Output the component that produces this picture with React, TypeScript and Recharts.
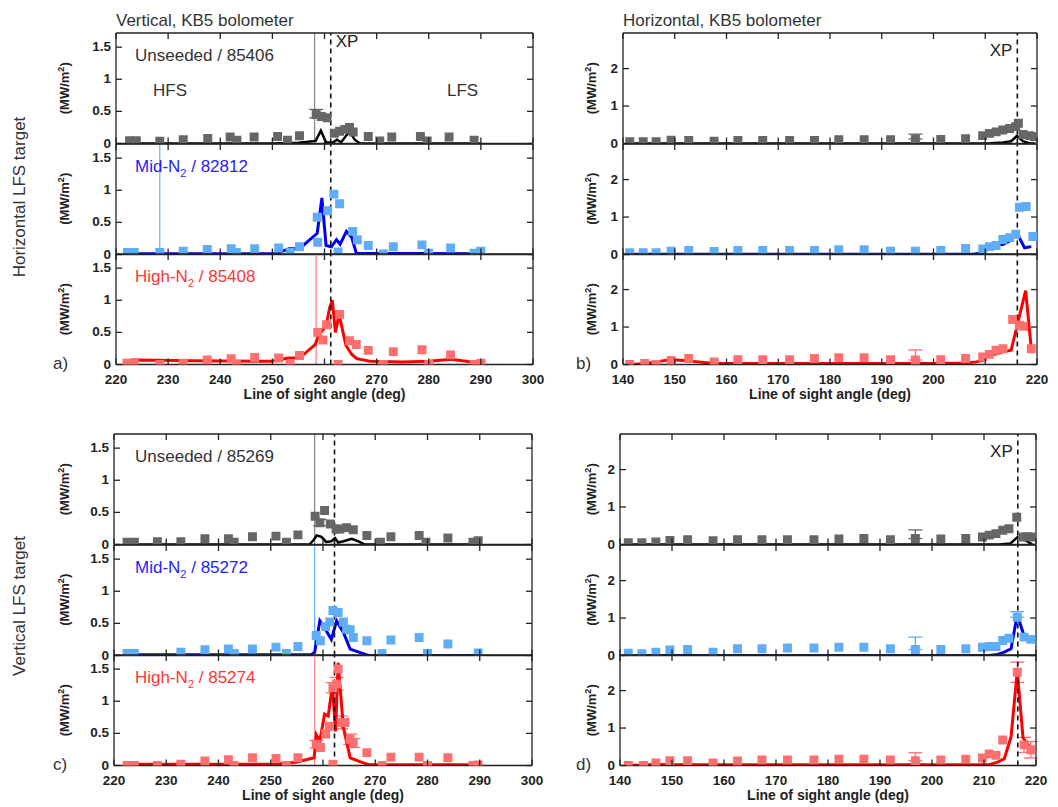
import React from "react";
import { ComposedChart, Scatter, Line, XAxis, YAxis, ZAxis, ReferenceLine, ErrorBar } from "recharts";

// ---- axes ----
const xTicksV = [220, 230, 240, 250, 260, 270, 280, 290, 300];
const xTicksH = [140, 150, 160, 170, 180, 190, 200, 210, 220];
const yTicksV = [0, 0.5, 1, 1.5];
const yTicksH = [0, 1, 2];

// X-point angle per panel (a, b, c, d)
const xpAngles = [261.2, 216.2, 262.2, 216.5];

// points are [angle, value, upper error?, lower error?]
// ---- panel a: horizontal LFS target, vertical camera ----
const a1Pts = [[222.6,0.045],[223.9,0.045],[228.4,0.035],[232.9,0.06],[237.6,0.08],[241.9,0.1],[243.2,0.05],[246.5,0.1],[251.0,0.11],[252.9,0.05],[255.2,0.12],[258.4,0.45,0.08,0.05],[259.4,0.42],[260.5,0.4],[261.9,0.16],[262.9,0.19],[263.9,0.22],[264.8,0.25],[265.5,0.18],[268.4,0.11],[270.6,0.04],[272.9,0.1],[278.4,0.11],[279.7,0.04],[283.9,0.1],[288.7,0.05]];
const a1Line = [[222,0],[250,0],[255,0.01],[258.3,0.04],[259.3,0.2],[260.3,0.02],[261.5,0.01],[262.4,0.06],[263.2,0.02],[264.8,0.19],[265.8,0.06],[266.8,0],[290,0]];
const a2Pts = [[222.2,0.03],[223.5,0.03],[228.4,0.03],[232.9,0.05],[237.5,0.08],[242.1,0.09],[243.1,0.03],[246.6,0.09],[251.2,0.1],[253.4,0.03],[255.2,0.12],[258.6,0.58],[258.7,0.19],[260.6,0.68],[261.8,0.94],[262.6,0.04],[262.9,0.79],[265.4,0.36],[266.3,0.23],[268.4,0.14],[271.3,0.01],[273.2,0.12],[278.7,0.15],[280.0,0.02],[284.2,0.1],[288.7,0.02],[290.0,0.05]];
const a2Line = [[222,0.01],[250.5,0.01],[253.2,0.09],[255.2,0.09],[258.6,0.33],[259.5,0.88],[260.3,0.14],[261.3,0.12],[262.3,0.23],[263.0,0.16],[264.2,0.36],[265.2,0.27],[266.1,0.02],[290,0.01]];
const a3Pts = [[222.1,0.02],[223.5,0.03],[228.4,0],[232.9,0.02],[237.5,0.07],[242.1,0.09],[243.1,0],[246.6,0.11],[251.2,0.1],[253.4,0],[255.2,0.14],[258.7,0.5],[259.7,0.38],[260.4,0.62],[262.6,0],[262.9,0.78],[264.8,0.37],[266.1,0.31],[268.4,0.22],[271.3,0],[273.2,0.2],[278.7,0.23],[280.0,0],[284.2,0.15],[288.7,0],[290.0,0.02]];
const a3Line = [[222,0.06],[224,0.07],[235,0.06],[250,0.05],[253,0.1],[255.2,0.1],[258.2,0.31],[259.0,0.47],[260.3,0.6],[261.0,0.89],[261.5,1.0],[262.1,0.5],[262.8,0.78],[264.1,0.3],[265.2,0.16],[266.2,0.09],[268.7,0.05],[275,0.04],[280,0.05],[284.3,0.08],[290,0.02]];

// ---- panel b: horizontal LFS target, horizontal camera ----
const b1Pts = [[141.3,0.05],[143.9,0.05],[146.4,0.05],[149.3,0.09],[152.7,0.08],[157.6,0.06],[162.2,0.08],[167.0,0.08],[172.2,0.08],[177.0,0.08],[181.7,0.1],[186.6,0.1],[191.7,0.1],[196.5,0.12,0.13,0],[201.4,0.11],[206.2,0.13],[209.5,0.21],[210.8,0.27],[212.1,0.31],[213.4,0.36],[214.7,0.4],[215.9,0.45],[216.4,0.54],[217.3,0.24],[218.6,0.21],[219.5,0.18]];
const b1Line = [[141,0],[209,0],[211,0.01],[213.4,0.03],[215,0.06],[216.1,0.2],[217.3,0.06],[218.6,0],[219.5,0]];
const b2Pts = [[141.3,0.045],[143.9,0.045],[146.4,0.05],[149.3,0.09],[152.7,0.11],[157.6,0.08],[162.2,0.11],[167.0,0.11],[172.2,0.11],[177.0,0.11],[181.7,0.13],[186.6,0.13],[191.7,0.09],[196.5,0.09],[201.4,0.11],[206.2,0.16],[209.5,0.15],[210.8,0.21],[212.1,0.24],[213.4,0.4],[214.7,0.45],[215.9,0.54],[216.6,1.26],[217.9,1.28],[219.2,0.48]];
const b2Line = [[141,0.01],[207.6,0.01],[209.5,0.04],[210.8,0.18],[212.4,0.27],[213.4,0.27],[214.7,0.36],[216.1,0.58],[217.6,0.18],[218.9,0.21]];
const b3Pts = [[141.3,0],[144.2,0.03],[146.4,0],[149.3,0.11],[152.7,0.16],[157.6,0.07],[162.2,0.13],[167.0,0.13],[172.2,0.13],[177.0,0.16],[181.7,0.18],[186.6,0.18],[191.7,0.13],[196.5,0.12,0.27,0],[201.4,0.13],[206.2,0.16],[209.5,0.2],[210.8,0.27],[212.1,0.38],[213.4,0.42],[215.3,1.2],[216.6,1.05],[217.4,1.02],[218.9,0.42]];
const b3Line = [[141.3,0],[144.2,0.02],[146.4,0.07],[149.3,0.13],[151.6,0.11],[157.6,0.03],[200,0.03],[206,0.04],[208.3,0.07],[209.5,0.11],[210.8,0.27],[212.1,0.28],[213.4,0.34],[215.0,0.38],[217.8,1.97],[218.9,0.42]];

// ---- panel c: vertical LFS target, vertical camera ----
const c1Pts = [[222.5,0.035],[223.9,0.035],[228.3,0.045],[232.8,0.045],[237.4,0.09],[241.9,0.09],[243.0,0.035],[246.5,0.12],[251.0,0.13],[253.0,0.035],[255.2,0.15],[258.5,0.44],[259.4,0.34,0.05,0.05],[260.3,0.53],[261.4,0.32],[262.5,0.24],[263.2,0.24],[264.5,0.26],[265.8,0.23],[268.4,0.14],[271.0,0.035],[273.0,0.12],[278.4,0.14],[279.7,0.035],[283.9,0.1],[288.7,0.035],[289.7,0.06]];
const c1Line = [[222,0],[257.4,0],[258.2,0.07],[258.8,0.14],[259.7,0.12],[260.6,0.04],[261.6,0.05],[262.3,0.1],[262.9,0.03],[263.9,0.05],[265.5,0.09],[266.8,0.05],[268,0],[290,0]];
const c2Pts = [[222.5,0.03],[223.9,0.03],[232.8,0.05],[237.4,0.09],[241.9,0.1],[243.0,0.03],[246.5,0.1],[251.0,0.13],[253.0,0.03],[255.2,0.14],[258.7,0.31],[259.5,0.23],[260.5,0.45],[261.3,0.52],[261.9,0.7],[262.9,0.67],[263.9,0.52],[264.5,0.41],[265.2,0.4],[265.8,0.28],[268.4,0.23],[271.3,0.03],[273.0,0.24],[278.4,0.28],[280.0,0.03],[283.9,0.18],[289.7,0.04]];
const c2Line = [[222,0.01],[257.7,0.01],[258.4,0.05],[259.4,0.54],[260.3,0.43],[261.6,0.25],[262.6,0.54],[263.9,0.36],[265.2,0.1],[267.7,0.03],[268.7,0],[290,0]];
const c3Pts = [[222.5,0],[223.9,0],[228.3,0],[232.8,0.02],[237.4,0.07],[241.9,0.09],[243.0,0],[246.5,0.12],[251.0,0.11],[253.0,0],[255.2,0.12],[258.7,0.33,0.06,0.06],[259.5,0.28],[260.5,0.49],[261.2,0.61],[261.9,0.02],[261.9,1.21,0.08,0.08],[262.6,1.27,0.1,0.1],[262.9,1.5],[263.5,0.67,0.1,0.1],[264.2,0.67],[265.2,0.41,0.08,0.08],[265.8,0.35,0.07,0.07],[268.4,0.2],[271.3,0],[273.0,0.13],[278.4,0.13],[280.0,0],[283.9,0.12],[288.7,0],[289.7,0.01]];
const c3Line = [[222,0.02],[250.3,0.02],[254.8,0.05],[258.3,0.12],[258.7,0.48],[259.4,0.38],[260.3,0.8],[261.0,0.77],[261.8,1.25],[262.4,0.53],[262.9,1.6],[263.9,0.59],[265.2,0.12],[267.7,0.04],[269,0.01],[290,0.01]];

// ---- panel d: vertical LFS target, horizontal camera ----
const d1Pts = [[141.6,0.045],[144.2,0.045],[146.9,0.07],[149.6,0.11],[153.0,0.13],[157.9,0.1],[162.6,0.13],[167.3,0.13],[172.2,0.13],[177.3,0.13],[182.1,0.15],[186.9,0.16],[192.0,0.13],[196.8,0.16,0.23,0],[201.7,0.15],[206.5,0.16],[209.7,0.2],[211.0,0.25],[212.3,0.29],[213.6,0.38],[214.8,0.42],[216.3,0.73],[217.4,0.2],[218.3,0.21],[219.2,0.2]];
const d1Line = [[141.6,0],[213,0],[215.1,0.03],[216.5,0.2],[218.0,0.11],[219.3,0]];
const d2Pts = [[141.6,0.06],[144.2,0.045],[146.9,0.09],[149.6,0.15],[153.0,0.16],[157.9,0.09],[162.6,0.18],[167.3,0.18],[172.2,0.2],[177.3,0.2],[182.1,0.22],[186.9,0.22],[192.0,0.18],[196.8,0.16,0.33,0],[201.7,0.16],[206.5,0.18],[209.7,0.22],[211.0,0.24],[212.3,0.24],[213.6,0.4],[214.8,0.46],[216.4,1.02,0.15,0],[217.7,0.49],[219.0,0.43]];
const d2Line = [[141.6,0],[211,0],[212.6,0.03],[213.9,0.09],[215.2,0.18],[216.4,1.09],[217.7,0.53],[219.3,0.4]];
const d3Pts = [[141.6,0],[144.5,0],[146.9,0.07],[149.6,0.13],[153.0,0.13],[157.9,0.07],[162.6,0.12],[167.3,0.15],[172.2,0.15],[177.3,0.15],[182.1,0.17],[186.9,0.17],[192.0,0.15],[196.8,0.13,0.21,0],[201.7,0.15],[206.5,0.17],[209.7,0.2],[211.0,0.31],[212.3,0.27],[213.6,0.68],[216.4,2.49,0.27,0.27],[217.7,0.55,0.2,0.2],[219.0,0.42,0.22,0.22]];
const d3Line = [[141.6,0],[146.9,0.03],[150,0.02],[211,0.02],[212.6,0.09],[213.9,0.18],[215.2,0.76],[216.4,2.53],[217.5,0.74],[219.3,0.4]];

// clipped large error bars (one per subplot)
const spikeA = [258.1, 228.4, 258.4];
const spikeC = [258.4, 258.4, 258.4];

const FRAME = "#222";
const GREY = "#666";
const LBLUE = "#5fadf6";
const PINK = "#ff6f6f";
const seriesStyle = [
  { pt: GREY, line: "#000", lw: 2.5, spike: "#8a8a8a" },
  { pt: LBLUE, line: "#0000f0", lw: 3, spike: "#6cb6f7" },
  { pt: PINK, line: "#ff0000", lw: 3, spike: "#ff8a8a" },
];

const BottomTick = (p: any) => (
  <g>
    <line x1={p.x} y1={p.y} x2={p.x} y2={p.y - 6} stroke={FRAME} strokeWidth={1.3} />
    {p.show && (
      <text x={p.x} y={p.y + 19} textAnchor="middle" fontSize={13.5} fontWeight="bold" fill="#222">
        {p.payload.value}
      </text>
    )}
  </g>
);
const TopTick = (p: any) => (
  <line x1={p.x} y1={p.y} x2={p.x} y2={p.y + 6} stroke={FRAME} strokeWidth={1.3} />
);
const LeftTick = (p: any) => (
  <g>
    <line x1={p.x} y1={p.y} x2={p.x + 6} y2={p.y} stroke={FRAME} strokeWidth={1.3} />
    <text x={p.x - 5} y={p.y + 4} textAnchor="end" fontSize={13.5} fontWeight="bold" fill="#222">
      {p.payload.value}
    </text>
  </g>
);
const RightTick = (p: any) => (
  <line x1={p.x} y1={p.y} x2={p.x - 6} y2={p.y} stroke={FRAME} strokeWidth={1.3} />
);

const XpLabel = (p: any) => {
  const vb = p.viewBox || {};
  const right = p.side === "right";
  return (
    <text
      x={right ? vb.x + 5 : vb.x - 5}
      y={vb.y + (right ? 14 : 23)}
      textAnchor={right ? "start" : "end"}
      fontSize={17}
      fill="#222"
    >
      XP
    </text>
  );
};

type SubProps = {
  left: number; top: number; width: number; height: number;
  xDomain: number[]; xTicks: number[]; yDomain: number[]; yTicks: number[];
  pts: number[][]; line: number[][]; style: any; spike?: number;
  xp: number; xpSide?: string; showX: boolean;
};

function SubPlot(s: SubProps) {
  const padT = 10, padL = 60, padR = 20, padB = s.showX ? 30 : 10;
  const pts = s.pts.map(([x, y, up, lo]) => ({ x, y, e: up == null ? undefined : [lo, up] }));
  const line = s.line.map(([x, y]) => ({ x, y }));
  const axisLine = { stroke: FRAME, strokeWidth: 1.3 };
  return (
    <div style={{ position: "absolute", left: s.left - padL, top: s.top - padT }}>
      <ComposedChart
        width={s.width + padL + padR}
        height={s.height + padT + padB}
        margin={{ top: padT - 1, right: padR - 1, bottom: padB - 1, left: padL - 1 }}
      >
        <XAxis xAxisId="b" dataKey="x" type="number" domain={s.xDomain} ticks={s.xTicks} interval={0}
          height={1} tickSize={0} tickMargin={0} tickLine={false} axisLine={axisLine}
          tick={<BottomTick show={s.showX} />} allowDataOverflow />
        <XAxis xAxisId="t" orientation="top" dataKey="x" type="number" domain={s.xDomain} ticks={s.xTicks}
          interval={0} height={1} tickSize={0} tickMargin={0} tickLine={false} axisLine={axisLine}
          tick={<TopTick />} allowDataOverflow />
        <YAxis yAxisId="l" dataKey="y" type="number" domain={s.yDomain} ticks={s.yTicks} interval={0}
          width={1} tickSize={0} tickMargin={0} tickLine={false} axisLine={axisLine}
          tick={<LeftTick />} allowDataOverflow />
        <YAxis yAxisId="r" orientation="right" dataKey="y" type="number" domain={s.yDomain} ticks={s.yTicks}
          interval={0} width={1} tickSize={0} tickMargin={0} tickLine={false} axisLine={axisLine}
          tick={<RightTick />} allowDataOverflow />
        <ZAxis range={[80, 80]} />
        {s.spike != null && (
          <ReferenceLine xAxisId="b" yAxisId="l" x={s.spike} stroke={s.style.spike} strokeWidth={1.3} />
        )}
        <Scatter xAxisId="b" yAxisId="l" data={pts} dataKey="y" fill={s.style.pt} shape="square"
          isAnimationActive={false}>
          <ErrorBar dataKey="e" direction="y" width={7} stroke={s.style.pt} strokeWidth={1.3} />
        </Scatter>
        <Line xAxisId="b" yAxisId="l" data={line} dataKey="y" type="linear" stroke={s.style.line}
          strokeWidth={s.style.lw} dot={false} isAnimationActive={false} />
        <ReferenceLine xAxisId="b" yAxisId="l" x={s.xp} stroke="#111" strokeWidth={1.6}
          strokeDasharray="5 4" label={s.xpSide ? <XpLabel side={s.xpSide} /> : undefined} />
      </ComposedChart>
    </div>
  );
}

const SUB_H = 110.5;
const panels = [
  { left: 116, top: 33, width: 417, xDomain: [220, 300], xTicks: xTicksV, yDomain: [0, 1.72], yTicks: yTicksV,
    subs: [[a1Pts, a1Line], [a2Pts, a2Line], [a3Pts, a3Line]], spikes: spikeA, xp: xpAngles[0], xpSide: "right" },
  { left: 623, top: 33, width: 414, xDomain: [140, 220], xTicks: xTicksH, yDomain: [0, 2.95], yTicks: yTicksH,
    subs: [[b1Pts, b1Line], [b2Pts, b2Line], [b3Pts, b3Line]], spikes: [], xp: xpAngles[1], xpSide: "left" },
  { left: 114, top: 434, width: 418, xDomain: [220, 300], xTicks: xTicksV, yDomain: [0, 1.72], yTicks: yTicksV,
    subs: [[c1Pts, c1Line], [c2Pts, c2Line], [c3Pts, c3Line]], spikes: spikeC, xp: xpAngles[2], xpSide: undefined },
  { left: 620, top: 434, width: 416, xDomain: [140, 220], xTicks: xTicksH, yDomain: [0, 2.95], yTicks: yTicksH,
    subs: [[d1Pts, d1Line], [d2Pts, d2Line], [d3Pts, d3Line]], spikes: [], xp: xpAngles[3], xpSide: "left" },
];

const caseLabels = [
  [["Unseeded / 85406"], ["Mid-N", " / 82812"], ["High-N", " / 85408"]],
  null,
  [["Unseeded / 85269"], ["Mid-N", " / 85272"], ["High-N", " / 85274"]],
  null,
];
const labelColors = ["#333", "#2323ff", "#ff3535"];
const panelLetters = ["a)", "b)", "c)", "d)"];

function MwLabel({ x, y }: { x: number; y: number }) {
  return (
    <text transform={`rotate(-90 ${x} ${y})`} x={x} y={y} textAnchor="middle" fontSize={13}
      fontWeight="bold" fill="#222">
      (MW/m<tspan dy={-5} fontSize={9}>2</tspan><tspan dy={5}>)</tspan>
    </text>
  );
}

export default function App() {
  return (
    <div style={{ position: "absolute", left: 0, top: 0, width: 1058, height: 807, background: "#fff",
      fontFamily: "'Liberation Sans', Arial, sans-serif" }}>
      {panels.map((p, pi) =>
        p.subs.map(([pts, line], si) => (
          <SubPlot key={`${pi}-${si}`} left={p.left} top={p.top + si * SUB_H} width={p.width} height={SUB_H}
            xDomain={p.xDomain} xTicks={p.xTicks} yDomain={p.yDomain} yTicks={p.yTicks}
            pts={pts} line={line} style={seriesStyle[si]} spike={p.spikes[si]}
            xp={p.xp} xpSide={si === 0 ? p.xpSide : undefined} showX={si === 2} />
        ))
      )}
      <svg width={1058} height={807} style={{ position: "absolute", left: 0, top: 0, pointerEvents: "none" }}>
        <text x={116} y={26} fontSize={17} fill="#333">Vertical, KB5 bolometer</text>
        <text x={623} y={26} fontSize={17} fill="#333">Horizontal, KB5 bolometer</text>
        <text x={153} y={96} fontSize={17} fill="#333">HFS</text>
        <text x={447} y={96} fontSize={17} fill="#333">LFS</text>
        <text transform="rotate(-90 25 197)" x={25} y={197} textAnchor="middle" fontSize={17} fill="#333">
          Horizontal LFS target
        </text>
        <text transform="rotate(-90 25 606)" x={25} y={606} textAnchor="middle" fontSize={17} fill="#333">
          Vertical LFS target
        </text>
        {panels.map((p, pi) => (
          <g key={pi}>
            {[0, 1, 2].map((si) => (
              <MwLabel key={si} x={pi % 2 === 0 ? 69 : 596} y={p.top + si * SUB_H + SUB_H / 2} />
            ))}
            <text x={p.left + p.width / 2} y={p.top + 3 * SUB_H + 34} textAnchor="middle" fontSize={14}
              fontWeight="bold" fill="#222">Line of sight angle (deg)</text>
            <text x={pi % 2 === 0 ? 53 : 576} y={p.top + 3 * SUB_H + 4} fontSize={17} fill="#333">
              {panelLetters[pi]}
            </text>
            {caseLabels[pi] &&
              caseLabels[pi]!.map((parts, si) => (
                <text key={si} x={135} y={p.top + si * SUB_H + 28} fontSize={17} fill={labelColors[si]}>
                  {parts[0]}
                  {parts.length > 1 && (
                    <>
                      <tspan dy={5} fontSize={11}>2</tspan>
                      <tspan dy={-5}>{parts[1]}</tspan>
                    </>
                  )}
                </text>
              ))}
          </g>
        ))}
      </svg>
    </div>
  );
}
